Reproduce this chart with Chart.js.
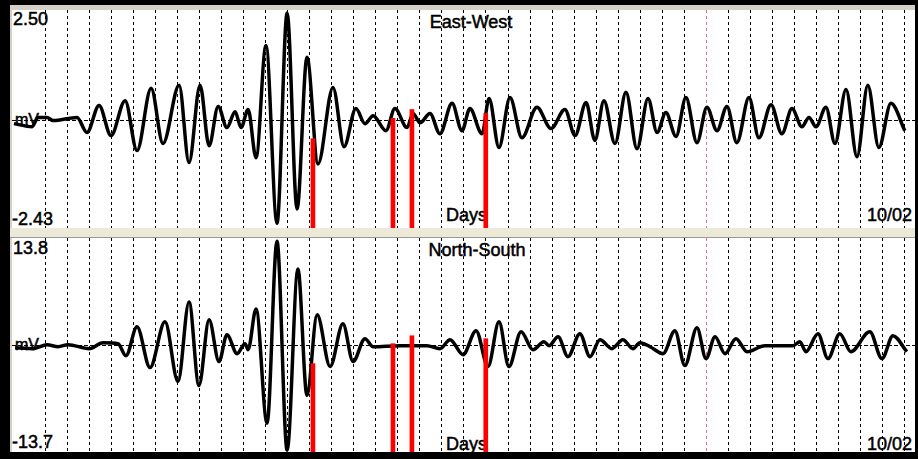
<!DOCTYPE html>
<html>
<head>
<meta charset="utf-8">
<script src="https://cdn.jsdelivr.net/npm/chart.js@4"></script>
<style>
  body { margin: 0; width: 918px; height: 459px; background: #000; overflow: hidden; position: relative; font-family: "Liberation Sans", Arial, sans-serif; }
  #frame { position: absolute; left: 10px; top: 5px; width: 905px; height: 447px; background: #d4d0c8; }
  .panel { position: absolute; left: 12px; width: 903px; background: #fff; overflow: hidden; }
  .panel canvas { position: absolute; left: 0; top: 0; z-index: 2; }
  .lbl { position: absolute; z-index: 1; font-size: 18px; line-height: 18px; color: #000; white-space: nowrap; -webkit-text-stroke: 0.5px #000; }
  .unit { font-size: 16px; line-height: 16px; }
  #sep { position: absolute; left: 10px; top: 228px; width: 905px; height: 9px; background: #ece9d8; border-bottom: 1px solid #9a9a9a; }
</style>
</head>
<body>
<div id="frame"></div>
<div class="panel" style="top:10px;height:218px">
  <div class="lbl" style="left:1px;top:0px">2.50</div>
  <div class="lbl" style="left:0px;top:200px">-2.43</div>
  <div class="lbl unit" style="left:3px;top:102px">mV</div>
  <div class="lbl" style="left:459px;top:3px;transform:translateX(-50%)">East-West</div>
  <div class="lbl" style="left:434px;top:196px">Days</div>
  <div class="lbl" style="right:3px;top:196px">10/02</div>
  <canvas id="ewChart" width="903" height="218"></canvas>
</div>
<div id="sep"></div>
<div class="panel" style="top:238px;height:214px">
  <div class="lbl" style="left:1px;top:1px">13.8</div>
  <div class="lbl" style="left:0px;top:195px">-13.7</div>
  <div class="lbl unit" style="left:3px;top:99px">mV</div>
  <div class="lbl" style="left:465px;top:3px;transform:translateX(-50%)">North-South</div>
  <div class="lbl" style="left:434px;top:197px">Days</div>
  <div class="lbl" style="right:3px;top:197px">10/02</div>
  <canvas id="nsChart" width="903" height="214"></canvas>
</div>

<script>
// time axis in grid divisions, one dashed line per division
const gridT = [0, 1, 2, 3, 4, 5, 6, 7, 8, 9, 10, 11, 12, 13, 14, 15, 16, 17, 18, 19,
               20, 21, 22, 23, 24, 25, 26, 27, 28, 29, 30, 31, 32, 33, 34, 35, 36, 37, 38, 39];
const markerGrid = 30; // the pink dotted one

// East-West trace (turning points), mV
const ewT = [-1.41, -0.59, -0.32, 0.09, 0.36, 1.45, 1.90, 2.45, 2.99, 3.63, 4.17, 4.81, 5.35, 6.08, 6.53,
             7.03, 7.44, 7.85, 8.25, 8.62, 8.89, 9.21, 9.57, 10.02, 10.52, 10.98, 11.43, 11.88, 12.38, 13.06,
             13.56, 14.10, 14.51, 14.88, 15.46, 15.87, 16.42, 16.69, 17.01, 17.46, 17.91, 18.46, 18.91, 19.27,
             19.82, 20.14, 20.59, 21.09, 21.63, 22.31, 22.95, 23.58, 24.04, 24.54, 24.94, 25.35, 25.85, 26.35,
             26.85, 27.35, 27.76, 28.16, 28.62, 29.07, 29.57, 30.02, 30.48, 30.93, 31.38, 31.93, 32.38, 32.93,
             33.42, 33.88, 34.33, 34.65, 34.97, 35.42, 35.83, 36.33, 36.83, 37.32, 37.82, 38.37, 39.00];
const ewMv = [-0.07, -0.14, 0.07, 0.07, 0.00, 0.07, -0.27, 0.34, -0.34, 0.45, -0.68, 0.73, -0.52, 0.80, -0.95,
              0.80, -0.57, 0.32, -0.16, 0.20, -0.16, 0.25, -0.84, 1.70, -2.32, 2.43, -2.00, 1.43, -0.98, 0.75,
              -0.59, 0.27, -0.07, 0.11, -0.23, 0.27, -0.16, 0.16, -0.05, 0.16, -0.30, 0.39, -0.23, 0.27,
              -0.30, 0.50, -0.61, 0.52, -0.39, 0.30, -0.18, 0.25, -0.34, 0.41, -0.45, 0.45, -0.52, 0.64,
              -0.64, 0.50, -0.27, 0.18, -0.36, 0.52, -0.50, 0.30, -0.23, 0.32, -0.50, 0.52, -0.39, 0.36,
              -0.30, 0.27, -0.14, 0.07, -0.14, 0.30, -0.52, 0.70, -0.82, 0.80, -0.61, 0.39, -0.23];

// North-South trace, mV
const nsT = [-1.36, -0.54, 0.09, 0.59, 1.04, 2.00, 2.63, 3.31, 3.67, 4.17, 4.76, 5.44, 6.03, 6.53, 6.98,
             7.44, 7.89, 8.25, 8.71, 9.07, 9.21, 9.57, 10.07, 10.52, 10.98, 11.47, 11.88, 12.34, 12.93, 13.51,
             13.97, 14.51, 14.88, 16.10, 17.32, 17.91, 18.37, 18.96, 19.55, 20.09, 20.59, 21.04, 21.59, 22.13,
             22.63, 22.86, 23.27, 23.72, 24.26, 24.72, 25.17, 25.71, 26.21, 26.67, 26.98, 27.44, 28.03, 28.57,
             29.02, 29.57, 29.98, 30.39, 30.84, 31.34, 31.84, 32.65, 33.92, 34.24, 34.51, 35.06, 35.51, 36.05,
             36.55, 37.41, 37.96, 38.46, 39.09];
const nsMv = [-0.29, -0.42, 0.09, -0.17, 0.09, -0.42, 0.35, 0.22, -1.32, 2.39, -2.85, 3.03, -4.64, 5.59, -5.15,
              3.29, -2.08, 1.37, -1.06, 0.22, -0.55, 4.69, -10.01, 13.39, -13.47, 9.81, -6.43, 3.93, -2.72, 2.77,
              -2.08, 0.86, -0.17, -0.04, -0.04, -0.42, 0.73, -1.19, 1.88, -2.72, 3.03, -2.72, 1.75, -0.55,
              0.47, -0.04, 1.11, -1.45, 1.50, -1.45, 0.73, -0.42, 0.73, -0.42, 0.35, -0.17, -1.06, 1.88,
              -2.60, 2.26, -1.70, 1.11, -1.06, 0.86, -0.81, -0.04, -0.04, 0.47, -0.81, 1.50, -1.70, 1.50,
              -0.81, 1.75, -1.70, 1.24, -0.81];

// red event markers: position + top of each bar in each panel
const eventT = [12.15, 15.78, 16.64, 19.99];
const ewEventTop = [-0.41, 0.05, 0.25, 0.16];
const nsEventTop = [-2.34, 0.22, 1.24, 0.86];

const ewRange = [-2.43, 2.50];
const nsRange = [-13.7, 13.8];
const tRange = [-1.5, 39.46];

function makePanel(canvasId, ts, vals, tops, range) {
    const trace = ts.map((t, i) => ({ x: t, y: vals[i] }));
    const events = eventT.map((t, i) => ({ x: t, y: [range[0], tops[i]] }));

    return new Chart(document.getElementById(canvasId).getContext('2d'), {
        type: 'line',
        data: {
            datasets: [
                {
                    type: 'bar',
                    data: events,
                    backgroundColor: '#ff0000',
                    borderWidth: 0,
                    barThickness: 4,
                    grouped: false,
                    order: 0,
                },
                {
                    data: trace,
                    borderColor: '#000',
                    borderWidth: 3.5,
                    pointRadius: 0,
                    fill: false,
                    cubicInterpolationMode: 'monotone',
                    borderJoinStyle: 'round',
                    order: 1,
                },
            ],
        },
        options: {
            responsive: false,
            animation: false,
            events: [],
            layout: { padding: 0 },
            plugins: { legend: { display: false }, tooltip: { enabled: false } },
            scales: {
                x: {
                    type: 'linear',
                    offset: false,   // bar dataset would otherwise shift the grid
                    min: tRange[0],
                    max: tRange[1],
                    afterBuildTicks: axis => { axis.ticks = gridT.map(v => ({ value: v })); },
                    ticks: { display: false },
                    grid: {
                        offset: false,
                        drawTicks: false,
                        tickLength: 0,
                        lineWidth: 1,
                        color: ctx => ctx.tick && ctx.tick.value === markerGrid ? '#e8708a' : '#000',
                    },
                    border: { display: false, dash: [3, 3] },
                },
                y: {
                    min: range[0],
                    max: range[1],
                    afterBuildTicks: axis => { axis.ticks = [{ value: 0 }]; },
                    ticks: { display: false },
                    grid: { drawTicks: false, tickLength: 0, color: '#000', lineWidth: 1 },
                    border: { display: false, dash: [4, 2] },
                },
            },
        },
    });
}

makePanel('ewChart', ewT, ewMv, ewEventTop, ewRange);
makePanel('nsChart', nsT, nsMv, nsEventTop, nsRange);
</script>
</body>
</html>
